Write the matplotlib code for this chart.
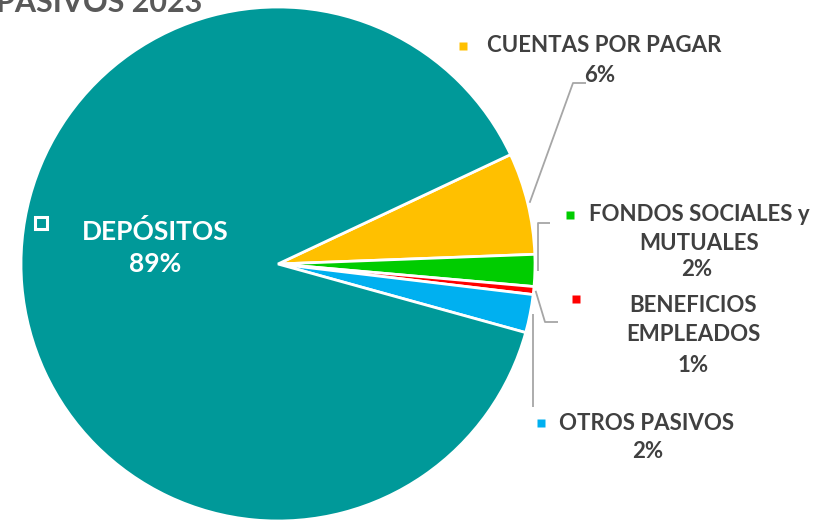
import matplotlib.pyplot as plt
import numpy as np

labels = ['CUENTAS POR PAGAR', 'FONDOS SOCIALES y\nMUTUALES', 'BENEFICIOS\nEMPLEADOS', 'OTROS PASIVOS', 'DEPÓSITOS']
values = [6.4, 2.0, 0.5, 2.4, 88.7]
pct_text = ['6%', '2%', '1%', '2%', '89%']
colors = ['#FFC000', '#00CC00', '#FF0000', '#00B0F0', '#009999']

W, H = 827, 522
FONT = 'Lato'
TXT = '#404040'
LINE = '#A6A6A6'


def yy(y_img):
    # image rows -> data y
    return H - y_img


fig = plt.figure(figsize=(8.27, 5.22), dpi=100)
ax = fig.add_axes([0, 0, 1, 1])

cx, cy, r = 278, yy(264), 257
wedges, _ = ax.pie(values, colors=colors, startangle=25.2, counterclock=False,
                   center=(cx, cy), radius=r,
                   wedgeprops=dict(edgecolor='white', linewidth=2))
ax.set_xlim(0, W)
ax.set_ylim(0, H)
ax.set_aspect('equal')
ax.axis('off')

# label layout: square marker, text centre, percent position, leader elbows
layout = [
    dict(sq=(463, 46), txt=(604, 46), pct=(600, 75), elbows=[(573, 83), (586, 83)]),
    dict(sq=(570, 215), txt=(699, 229), pct=(697, 270), elbows=[(538, 223), (550, 223)]),
    dict(sq=(576, 299), txt=(693, 320), pct=(693, 365), elbows=[(545, 322), (558, 322)]),
    dict(sq=(541, 423), txt=(647, 423), pct=(648, 452), elbows=[(533, 407)]),
]

for i, lay in enumerate(layout):
    w = wedges[i]
    mid = np.deg2rad((w.theta1 + w.theta2) / 2)
    sx = cx + (r + 2) * np.cos(mid)
    sy = cy + (r + 2) * np.sin(mid)
    pts = [(sx, sy)] + [(x, yy(y)) for x, y in lay['elbows']]
    if i in (1, 3):
        pts = [(lay['elbows'][0][0], sy)] + pts[1:]
    xs, ys = zip(*pts)
    ax.plot(xs, ys, color=LINE, lw=1.3, solid_capstyle='butt')
    ax.plot(lay['sq'][0], yy(lay['sq'][1]), marker='s', ms=5.5, color=colors[i], mec='none')
    ax.text(lay['txt'][0], yy(lay['txt'][1]), labels[i], ha='center', va='center',
            fontsize=16, family=FONT, fontweight='bold', color=TXT, linespacing=1.5)
    ax.text(lay['pct'][0], yy(lay['pct'][1]), pct_text[i], ha='center', va='center',
            fontsize=16, family=FONT, fontweight='bold', color=TXT)

# depositos label inside the pie
ax.plot(41, yy(223), marker='s', ms=9, mfc=colors[4], mec='white', mew=2.2)
ax.text(155, yy(231), labels[4], ha='center', va='center',
        fontsize=19, family=FONT, fontweight='bold', color='white')
ax.text(155, yy(264), pct_text[4], ha='center', va='center',
        fontsize=19, family=FONT, fontweight='bold', color='white')

# title sits partly above the top edge, as in the source image
ax.text(202, yy(12), 'PASIVOS 2023', ha='right', va='baseline',
        fontsize=22, family=FONT, fontweight='bold', color='#595959')

fig.savefig('out.png', dpi=100)
